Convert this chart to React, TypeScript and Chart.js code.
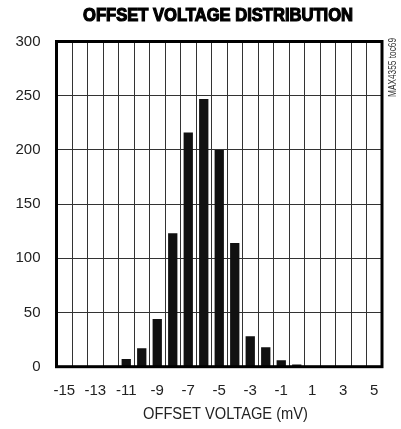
import React, { useEffect, useRef } from "react";
import { Chart, registerables } from "chart.js";

Chart.register(...registerables);

const categories = [
  "-15", "-14", "-13", "-12", "-11", "-10", "-9", "-8", "-7", "-6", "-5",
  "-4", "-3", "-2", "-1", "0", "1", "2", "3", "4", "5",
];
const counts = [0, 0, 0, 0, 7, 17, 44, 123, 216, 247, 200, 114, 28, 18, 6, 2, 0, 0, 0, 0, 0];
const xTickLabels = ["-15", "-13", "-11", "-9", "-7", "-5", "-3", "-1", "1", "3", "5"];
const yTicks = [0, 50, 100, 150, 200, 250, 300];

const TITLE = "OFFSET VOLTAGE DISTRIBUTION";
const X_TITLE = "OFFSET VOLTAGE (mV)";
const TOC = "MAX4355 toc69";

const FONT = "'Liberation Sans', Arial, sans-serif";

function drawFitted(ctx: any, text: string, x: number, y: number, width: number, rot = 0, stroke = 0) {
  const w = ctx.measureText(text).width;
  ctx.save();
  ctx.translate(x, y);
  if (rot) ctx.rotate(rot);
  ctx.scale(width / w, 1);
  ctx.fillText(text, 0, 0);
  if (stroke) {
    ctx.lineWidth = stroke;
    ctx.strokeText(text, 0, 0);
  }
  ctx.restore();
}

const decorPlugin = {
  id: "decor",
  afterDraw(chart: any) {
    const { ctx, chartArea } = chart;
    const { left, right, top, bottom } = chartArea;
    ctx.save();
    // frame
    ctx.strokeStyle = "#000";
    ctx.lineWidth = 3;
    ctx.strokeRect(left, top, right - left, bottom - top);
    ctx.textAlign = "center";
    ctx.textBaseline = "middle";
    // title
    ctx.fillStyle = "#000";
    ctx.strokeStyle = "#000";
    ctx.font = "bold 18px " + FONT;
    drawFitted(ctx, TITLE, 218, 16.5, 270, 0, 1.2);
    // x-axis title
    ctx.fillStyle = "#222";
    ctx.font = "16px " + FONT;
    drawFitted(ctx, X_TITLE, 225.5, 414.5, 165);
    // rotated id
    ctx.font = "10px " + FONT;
    ctx.fillStyle = "#333";
    drawFitted(ctx, TOC, 393, 67.5, 59, -Math.PI / 2);
    ctx.restore();
  },
};

export default function App() {
  const ref = useRef<HTMLCanvasElement | null>(null);
  useEffect(() => {
    if (!ref.current) return;
    const chart = new Chart(ref.current, {
      type: "bar",
      data: {
        labels: categories,
        datasets: [
          {
            data: counts,
            backgroundColor: "#111",
            borderWidth: 0,
            barPercentage: 0.6,
            categoryPercentage: 1,
          },
        ],
      },
      options: {
        animation: false,
        responsive: false,
        events: [],
        layout: { padding: { left: 0, top: 41.5, right: 19, bottom: 0 } },
        plugins: {
          legend: { display: false },
          tooltip: { enabled: false },
          title: { display: false },
        },
        scales: {
          x: {
            type: "category",
            offset: true,
            grid: { offset: true, color: "#333", lineWidth: 1, drawTicks: false },
            border: { display: false },
            ticks: {
              autoSkip: false,
              maxRotation: 0,
              minRotation: 0,
              padding: 15,
              color: "#222",
              font: { family: FONT, size: 15 },
              callback: function (this: any, value: any, index: number) {
                const lab = categories[index];
                return xTickLabels.includes(lab) ? lab : "";
              },
            },
            afterFit: (scale: any) => {
              scale.height = 62.3;
            },
          },
          y: {
            min: 0,
            max: 300,
            grid: { color: "#333", lineWidth: 1, drawTicks: false },
            border: { display: false },
            afterBuildTicks: (scale: any) => {
              scale.ticks = yTicks.map((v) => ({ value: v }));
            },
            ticks: {
              padding: 16,
              color: "#222",
              font: { family: FONT, size: 15 },
            },
            afterFit: (scale: any) => {
              scale.width = 56.5;
            },
          },
        },
      },
      plugins: [decorPlugin],
    } as any);
    return () => chart.destroy();
  }, []);
  return (
    <div style={{ position: "fixed", left: 0, top: 0, width: 401, height: 429, background: "#fff" }}>
      <canvas ref={ref} width={401} height={429} style={{ display: "block" }} />
    </div>
  );
}
